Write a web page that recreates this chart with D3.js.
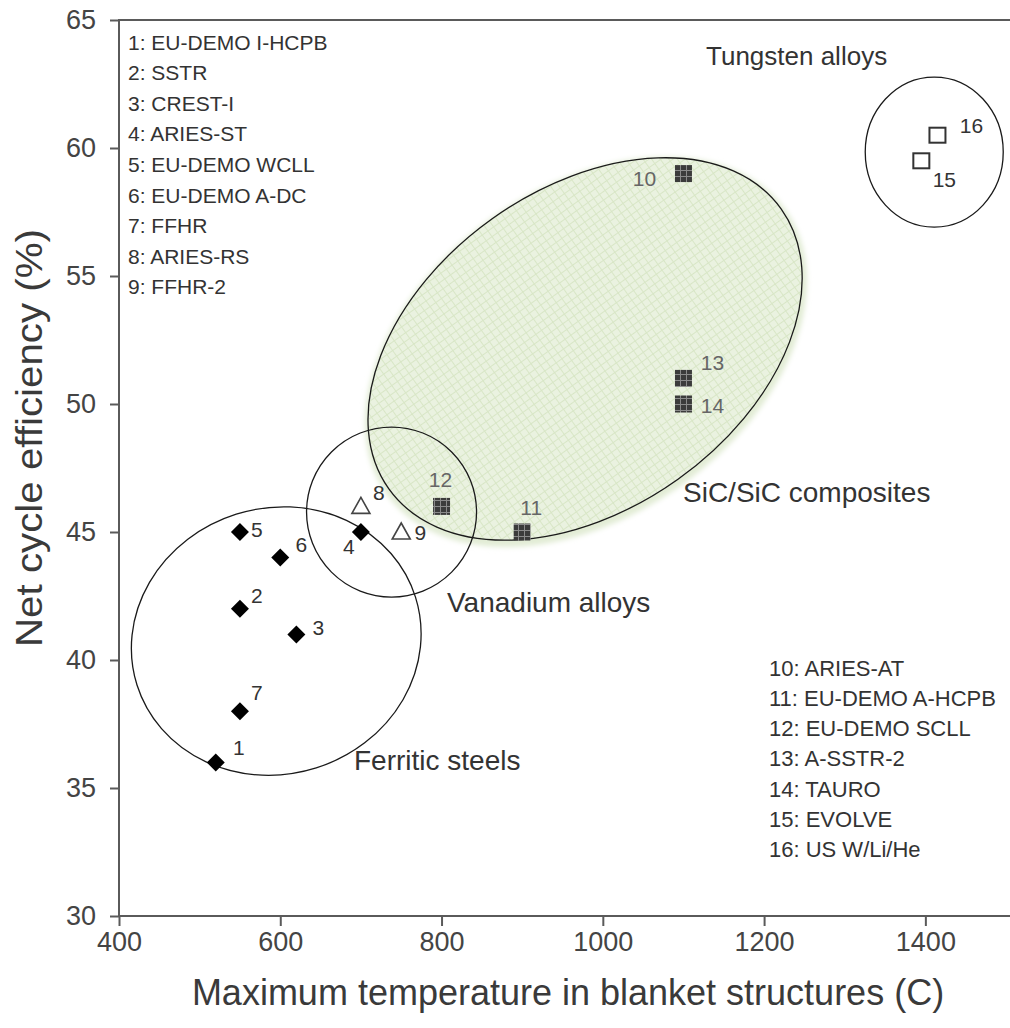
<!DOCTYPE html>
<html>
<head>
<meta charset="utf-8">
<script src="https://cdn.jsdelivr.net/npm/d3@7"></script>
<style>
  html, body { margin: 0; padding: 0; background: #fff; }
  svg { display: block; font-family: "Liberation Sans", Arial, sans-serif; }
</style>
</head>
<body>
<svg id="chart" width="1010" height="1028"></svg>
<script>
// ---- data ----
const ids = [1,2,3,4,5,6,7,8,9,10,11,12,13,14,15,16];
const names = ["EU-DEMO I-HCPB","SSTR","CREST-I","ARIES-ST","EU-DEMO WCLL","EU-DEMO A-DC","FFHR","ARIES-RS","FFHR-2",
               "ARIES-AT","EU-DEMO A-HCPB","EU-DEMO SCLL","A-SSTR-2","TAURO","EVOLVE","US W/Li/He"];
const maxTemp = [520,550,620,700,550,600,550,700,750,1100,900,800,1100,1100,1395,1415];
const efficiency = [36,42,41,45,45,44,38,46,45,59,45,46,51,50,59.5,60.5];
const material = ["ferritic","ferritic","ferritic","ferritic","ferritic","ferritic","ferritic",
                  "vanadium","vanadium","sic","sic","sic","sic","sic","tungsten","tungsten"];
const xTicks = [400,600,800,1000,1200,1400];
const yTicks = [30,35,40,45,50,55,60,65];
const regionNames = ["Ferritic steels","Vanadium alloys","SiC/SiC composites","Tungsten alloys"];
const regionCenterX = [595,738,978,1411];
const regionCenterY = [40.74,45.78,52.15,59.84];

// ---- layout / style ----
const W = 1010, H = 1028;
const x = d3.scaleLinear().domain([400,1500]).range([119,1006]);
const y = d3.scaleLinear().domain([30,65]).range([916,20]);
const svg = d3.select("#chart");
const FONT = '"Liberation Sans", Arial, sans-serif';

const defs = svg.append("defs");
const gp = defs.append("pattern").attr("id","greengrid").attr("patternUnits","userSpaceOnUse")
  .attr("width",7).attr("height",7);
gp.append("rect").attr("width",7).attr("height",7).attr("fill","#eaf2e0");
gp.append("path").attr("d","M0,0.5H7M0.5,0V7").attr("stroke","#d8e6c6").attr("stroke-width",1);
const hp = defs.append("pattern").attr("id","hatch").attr("patternUnits","userSpaceOnUse")
  .attr("width",6).attr("height",6);
hp.append("rect").attr("width",6).attr("height",6).attr("fill","#3b3b3b");
hp.append("path").attr("d","M0,2.5H6M2.5,0V6").attr("stroke","#8a8a8a").attr("stroke-width",1);
defs.append("filter").attr("id","blur").append("feGaussianBlur").attr("stdDeviation",2.5);

// region geometry (pixel radii, rotation)
const regionGeom = {
  "Ferritic steels":    {rx:146, ry:133, rot:-17.5},
  "Vanadium alloys":    {rx:85,  ry:85,  rot:0},
  "SiC/SiC composites": {rx:241, ry:160, rot:-35.5},
  "Tungsten alloys":    {rx:69,  ry:75,  rot:0}
};
const regions = regionNames.map((n,i)=>({name:n, cx:x(regionCenterX[i]), cy:y(regionCenterY[i]), ...regionGeom[n]}));
const sic = regions.find(r=>r.name.startsWith("SiC"));

// SiC glow + fill
svg.append("ellipse").attr("cx",sic.cx-1).attr("cy",sic.cy+3).attr("rx",sic.rx+4).attr("ry",sic.ry+4)
  .attr("transform",`rotate(${sic.rot},${sic.cx},${sic.cy})`).attr("fill","#e2ecd5").attr("filter","url(#blur)");
svg.append("ellipse").attr("cx",sic.cx).attr("cy",sic.cy).attr("rx",sic.rx).attr("ry",sic.ry)
  .attr("transform",`rotate(${sic.rot},${sic.cx},${sic.cy})`).attr("fill","url(#greengrid)");

// outlines
svg.selectAll("ellipse.region").data(regions).enter().append("ellipse").attr("class","region")
  .attr("cx",d=>d.cx).attr("cy",d=>d.cy).attr("rx",d=>d.rx).attr("ry",d=>d.ry)
  .attr("transform",d=>`rotate(${d.rot},${d.cx},${d.cy})`)
  .attr("fill","none").attr("stroke","#1a1a1a").attr("stroke-width",1.3);

// ---- axes ----
const axisColor = "#5a5a5a";
const gx = svg.append("g").attr("transform","translate(0,916)")
  .call(d3.axisBottom(x).tickValues(xTicks).tickFormat(d3.format("d")).tickSize(10).tickSizeOuter(0).tickPadding(6));
gx.select(".domain").remove();
gx.selectAll("line").attr("stroke",axisColor).attr("stroke-width",2);
gx.selectAll("text").attr("font-size",27).attr("fill","#444").attr("font-family",FONT);
const gy = svg.append("g").attr("transform","translate(119,0)")
  .call(d3.axisLeft(y).tickValues(yTicks).tickFormat(d3.format("d")).tickSize(9).tickSizeOuter(0).tickPadding(14));
gy.select(".domain").remove();
gy.selectAll("line").attr("stroke",axisColor).attr("stroke-width",2);
gy.selectAll("text").attr("font-size",27).attr("fill","#444").attr("font-family",FONT);
// frame lines
svg.append("line").attr("x1",118).attr("x2",W).attr("y1",y(30)).attr("y2",y(30)).attr("stroke",axisColor).attr("stroke-width",2);
svg.append("line").attr("x1",x(400)).attr("x2",x(400)).attr("y1",y(65)).attr("y2",y(30)+1).attr("stroke",axisColor).attr("stroke-width",2);
svg.append("line").attr("x1",118).attr("x2",W).attr("y1",y(65)).attr("y2",y(65)).attr("stroke",axisColor).attr("stroke-width",2);

// axis titles
svg.append("text").attr("x",568).attr("y",1005).attr("text-anchor","middle")
  .attr("font-size",36).attr("fill","#3a3a3a").text("Maximum temperature in blanket structures (C)");
svg.append("text").attr("transform","translate(42,438) rotate(-90)").attr("text-anchor","middle")
  .attr("font-size",36).attr("fill","#3a3a3a")
  .attr("textLength",418).attr("lengthAdjust","spacingAndGlyphs").text("Net cycle efficiency (%)");

// ---- markers ----
const pts = ids.map((id,i)=>({id, name:names[i], t:maxTemp[i], e:efficiency[i], m:material[i]}));
const mk = svg.append("g");
pts.forEach(p=>{
  const px = x(p.t), py = y(p.e);
  if (p.m==="ferritic") {
    mk.append("path").attr("d",`M${px},${py-9}L${px+9},${py}L${px},${py+9}L${px-9},${py}Z`).attr("fill","#000");
  } else if (p.m==="vanadium") {
    mk.append("path").attr("d",`M${px},${py-9}L${px+9},${py+7}L${px-9},${py+7}Z`)
      .attr("fill","#fff").attr("stroke","#444").attr("stroke-width",1.6);
  } else if (p.m==="sic") {
    mk.append("rect").attr("x",px-8.5).attr("y",py-8.5).attr("width",17).attr("height",17).attr("fill","url(#hatch)");
  } else {
    mk.append("rect").attr("x",px-8).attr("y",py-7.5).attr("width",16).attr("height",15)
      .attr("fill","#fff").attr("stroke","#333").attr("stroke-width",2);
  }
});

// point number labels (pixel offsets)
const labelOffset = {1:[23,-15],2:[17,-13],3:[22,-7],4:[-12,14],5:[17,-3],6:[21,-13],7:[17,-19],8:[18,-14],9:[19,0],
  10:[-39,5],11:[9,-25],12:[-1,-27],13:[29,-16],14:[29,1],15:[23,19],16:[34,-10]};
svg.append("g").selectAll("text").data(pts).enter().append("text")
  .attr("x",d=>x(d.t)+labelOffset[d.id][0]).attr("y",d=>y(d.e)+labelOffset[d.id][1])
  .attr("text-anchor","middle").attr("dominant-baseline","central")
  .attr("font-size",21).attr("fill",d=>d.m==="sic"?"#666":"#333").text(d=>d.id);

// region annotation labels
const regionLabelPos = {"Tungsten alloys":[706,56,26],"SiC/SiC composites":[683,492,28],"Vanadium alloys":[447,602,28],"Ferritic steels":[354,760,28]};
svg.append("g").selectAll("text").data(regionNames).enter().append("text")
  .attr("x",d=>regionLabelPos[d][0]).attr("y",d=>regionLabelPos[d][1]).attr("dominant-baseline","central")
  .attr("font-size",d=>regionLabelPos[d][2]).attr("fill","#333").text(d=>d);

// legends
const leftLeg = pts.filter(p=>p.id<=9), rightLeg = pts.filter(p=>p.id>=10);
svg.append("g").selectAll("text").data(leftLeg).enter().append("text")
  .attr("x",128).attr("y",(d,i)=>42+i*30.6).attr("dominant-baseline","central")
  .attr("font-size",21).attr("fill","#333").text(d=>`${d.id}: ${d.name}`);
svg.append("g").selectAll("text").data(rightLeg).enter().append("text")
  .attr("x",769).attr("y",(d,i)=>668+i*30.3).attr("dominant-baseline","central")
  .attr("font-size",22).attr("fill","#333").text(d=>`${d.id}: ${d.name}`);
</script>
</body>
</html>
